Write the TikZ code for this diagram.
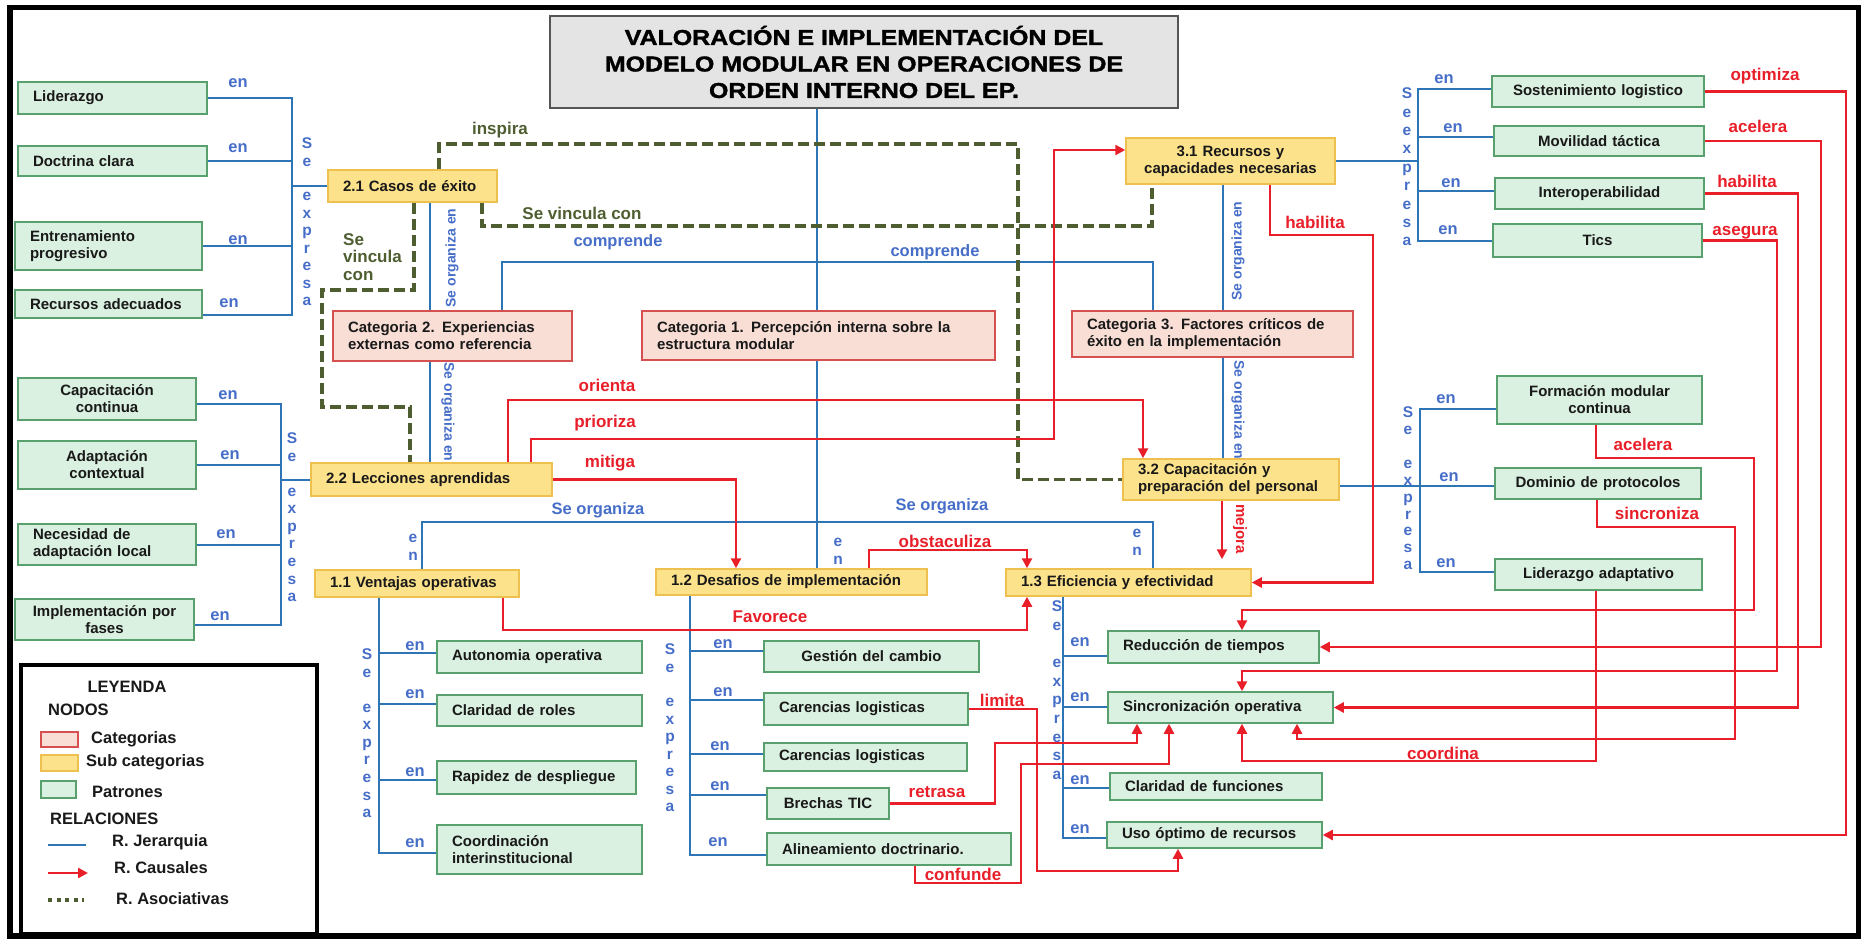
\documentclass[tikz,border=0pt]{standalone}
\usepackage{fontspec}
\setmainfont{Liberation Sans}
\newfontfamily\titlefont[FakeStretch=1.16,FakeBold=1.6]{Liberation Sans Bold}
\usetikzlibrary{arrows.meta}
\definecolor{hb}{RGB}{46,117,182}
\definecolor{hl}{RGB}{70,110,200}
\definecolor{rd}{RGB}{232,30,40}
\definecolor{ol}{RGB}{78,94,48}
\definecolor{catF}{RGB}{249,222,213}
\definecolor{catB}{RGB}{214,80,80}
\definecolor{subF}{RGB}{252,226,138}
\definecolor{subB}{RGB}{238,192,80}
\definecolor{patF}{RGB}{218,240,224}
\definecolor{patB}{RGB}{88,160,110}
\definecolor{tgF}{RGB}{228,228,228}
\definecolor{tgB}{RGB}{85,85,85}
\definecolor{txt}{RGB}{25,25,25}
\newcommand\boxfont{\fontsize{15}{17}\selectfont\bfseries}
\newcommand\bxL[7]{\node[#2, minimum width={#5-(#3)}, minimum height={#6-(#4)}, text width={#5-(#3)-30}, align=left] (#1) at ({(#3+#5)/2},{(#4+#6)/2}) {#7};}
\newcommand\bxC[7]{\node[#2, minimum width={#5-(#3)}, minimum height={#6-(#4)}, text width={#5-(#3)-10}, align=center] (#1) at ({(#3+#5)/2},{(#4+#6)/2}) {#7};}
\newcommand\sexp[5]{\node[blab, anchor=north, align=center, font=\fontsize{15.5}{#4}\selectfont\bfseries] (#1) at (#2,#3) {#5};}
\tikzset{
  box/.style={draw, line width=1.5pt, inner xsep=0pt, inner ysep=0pt, text=txt, font=\boxfont},
  catbox/.style={box, draw=catB, fill=catF},
  subbox/.style={box, draw=subB, fill=subF},
  patbox/.style={box, draw=patB, fill=patF},
  hier/.style={draw=hb, line width=2pt},
  caus/.style={draw=rd, line width=2.4pt, -{Triangle[length=10pt,width=10pt]}},
  assoc/.style={draw=ol, line width=3.6pt, dash pattern=on 11pt off 5pt},
  blab/.style={text=hl, font=\fontsize{16.5}{18}\selectfont\bfseries, inner sep=0pt},
  rlab/.style={text=rd, font=\fontsize{17}{19}\selectfont\bfseries, inner sep=0pt},
  olab/.style={text=ol, font=\fontsize{17}{17.5}\selectfont\bfseries, inner sep=0pt},
  legt/.style={text=txt, font=\fontsize{16.5}{18}\selectfont\bfseries, inner sep=0pt, anchor=west},
}
\begin{document}
\begin{tikzpicture}[x=1pt,y=-1pt]
\useasboundingbox (0,0) rectangle (1861,939);
\draw[line width=5.5pt] (10,7.5) rectangle (1859,936);

% title
\node[draw=tgB, fill=tgF, line width=2pt, minimum width=628, minimum height=92, align=center, inner sep=0pt, text=black,
  font=\titlefont\fontsize{21.5}{26.5}\selectfont] (T) at (864,62)
  {VALORACIÓN E IMPLEMENTACIÓN DEL\\MODELO MODULAR EN OPERACIONES DE\\ORDEN INTERNO DEL EP.};

% categories
\bxL{c2}{catbox}{333}{311}{572}{361}{Categoria 2. Experiencias\\externas como referencia}
\bxL{c1}{catbox}{642}{311}{995}{360}{Categoria 1. Percepción interna sobre la\\estructura modular}
\bxL{c3}{catbox}{1072}{311}{1353}{357}{Categoria 3. Factores críticos de\\éxito en la implementación}

% subcategories
\bxL{s21}{subbox}{328}{170}{497}{202}{2.1 Casos de éxito}
\bxL{s22}{subbox}{311}{463}{552}{496}{2.2 Lecciones aprendidas}
\bxL{s11}{subbox}{315}{570}{519}{597}{1.1 Ventajas operativas}
\bxL{s12}{subbox}{656}{569}{927}{595}{1.2 Desafios de implementación}
\bxL{s13}{subbox}{1006}{569}{1251}{596}{1.3 Eficiencia y efectividad}
\bxC{s31}{subbox}{1126}{138}{1335}{184}{3.1 Recursos y\\capacidades necesarias}
\bxL{s32}{subbox}{1123}{459}{1339}{500}{3.2 Capacitación y\\preparación del personal}

% patterns
\bxL{p1}{patbox}{18}{82}{207}{114}{Liderazgo}
\bxL{p2}{patbox}{18}{146}{207}{176}{Doctrina clara}
\bxL{p3}{patbox}{15}{222}{202}{270}{Entrenamiento\\progresivo}
\bxL{p4}{patbox}{15}{290}{202}{318}{Recursos adecuados}
\bxC{p5}{patbox}{18}{378}{196}{420}{Capacitación\\continua}
\bxC{p6}{patbox}{18}{441}{196}{489}{Adaptación\\contextual}
\bxL{p7}{patbox}{18}{524}{196}{565}{Necesidad de\\adaptación local}
\bxC{p8}{patbox}{15}{599}{194}{640}{Implementación por\\fases}
\bxL{p9}{patbox}{437}{641}{642}{673}{Autonomia operativa}
\bxL{p10}{patbox}{437}{695}{642}{726}{Claridad de roles}
\bxL{p11}{patbox}{437}{761}{636}{794}{Rapidez de despliegue}
\bxL{p12}{patbox}{437}{825}{642}{874}{Coordinación\\interinstitucional}
\bxC{p13}{patbox}{764}{641}{979}{672}{Gestión del cambio}
\bxL{p14}{patbox}{764}{693}{968}{725}{Carencias logisticas}
\bxL{p15}{patbox}{764}{743}{967}{771}{Carencias logisticas}
\bxC{p16}{patbox}{767}{788}{889}{819}{Brechas TIC}
\bxL{p17}{patbox}{767}{833}{1011}{865}{Alineamiento doctrinario.}
\bxL{p18}{patbox}{1108}{631}{1319}{663}{Reducción de tiempos}
\bxL{p19}{patbox}{1108}{692}{1333}{723}{Sincronización operativa}
\bxL{p20}{patbox}{1110}{773}{1322}{800}{Claridad de funciones}
\bxL{p21}{patbox}{1107}{822}{1322}{848}{Uso óptimo de recursos}
\bxC{p22}{patbox}{1492}{76}{1704}{107}{Sostenimiento logistico}
\bxC{p23}{patbox}{1494}{126}{1704}{156}{Movilidad táctica}
\bxC{p24}{patbox}{1495}{178}{1704}{209}{Interoperabilidad}
\bxC{p25}{patbox}{1493}{224}{1702}{257}{Tics}
\bxC{p26}{patbox}{1497}{376}{1702}{424}{Formación modular\\continua}
\bxC{p27}{patbox}{1495}{468}{1701}{499}{Dominio de protocolos}
\bxC{p28}{patbox}{1495}{559}{1702}{590}{Liderazgo adaptativo}

% hierarchy lines
\draw[hier] (817,0 |- T.south) -- (817,0 |- c1.north);
\draw[hier] (502,0 |- c2.north) -- (502,262) -- (1153,262) -- (1153,0 |- c3.north);
\draw[hier] (817,0 |- c1.south) -- (817,0 |- s12.north);
\draw[hier] (422,0 |- s11.north) -- (422,522) -- (1153,522) -- (1153,0 |- s13.north);
\draw[hier] (430,0 |- s21.south) -- (430,0 |- c2.north);
\draw[hier] (430,0 |- c2.south) -- (430,0 |- s22.north);
\draw[hier] (1223,0 |- s31.south) -- (1223,0 |- c3.north);
\draw[hier] (1223,0 |- c3.south) -- (1223,0 |- s32.north);
% 2.1 group
\draw[hier] (p1.east) -- (292,98) -- (292,315) -- (p4.east |- 0,315);
\draw[hier] (p2.east) -- (292,0 |- p2.east);
\draw[hier] (p3.east) -- (292,0 |- p3.east);
\draw[hier] (s21.west) -- (292,0 |- s21.west);
% 2.2 group
\draw[hier] (p5.east |- 0,404) -- (281,404) -- (281,625) -- (p8.east |- 0,625);
\draw[hier] (p6.east) -- (281,0 |- p6.east);
\draw[hier] (p7.east) -- (281,0 |- p7.east);
\draw[hier] (s22.west) -- (281,0 |- s22.west);
% 1.1 group
\draw[hier] (379,0 |- s11.south) -- (379,853) -- (p12.west |- 0,853);
\draw[hier] (379,653) -- (p9.west |- 0,653);
\draw[hier] (379,704) -- (p10.west |- 0,704);
\draw[hier] (379,780) -- (p11.west |- 0,780);
% 1.2 group
\draw[hier] (690,0 |- s12.south) -- (690,855) -- (p17.west |- 0,855);
\draw[hier] (690,651) -- (p13.west |- 0,651);
\draw[hier] (690,700) -- (p14.west |- 0,700);
\draw[hier] (690,754) -- (p15.west |- 0,754);
\draw[hier] (690,795) -- (p16.west |- 0,795);
% 1.3 group
\draw[hier] (1063,0 |- s13.south) -- (1063,838) -- (p21.west |- 0,838);
\draw[hier] (1063,656) -- (p18.west |- 0,656);
\draw[hier] (1063,707) -- (p19.west |- 0,707);
\draw[hier] (1063,788) -- (p20.west |- 0,788);
% 3.1 group
\draw[hier] (s31.east) -- (1418,0 |- s31.east);
\draw[hier] (p22.west |- 0,89) -- (1418,89) -- (1418,241) -- (p25.west |- 0,241);
\draw[hier] (1418,137) -- (p23.west |- 0,137);
\draw[hier] (1418,191) -- (p24.west |- 0,191);
% 3.2 group
\draw[hier] (s32.east |- 0,486) -- (1420,486) -- (p27.west |- 0,486);
\draw[hier] (p26.west |- 0,409) -- (1420,409) -- (1420,572) -- (p28.west |- 0,572);

% associative
\draw[assoc] (439,0 |- s21.north) -- (439,144) -- (1018,144) |- (s32.west);
\draw[assoc] (482,0 |- s21.south) -- (482,226) -| (1152,0 |- s31.south);
\draw[assoc] (414,0 |- s21.south) -- (414,290) -- (322,290) -- (322,407) -- (410,407) -- (410,0 |- s22.north);

% causal
\draw[caus] (508,0 |- s22.north) -- (508,400) -| (1143,0 |- s32.north);
\draw[caus] (531,0 |- s22.north) -- (531,439) -- (1054,439) -- (1054,150) -- (s31.west |- 0,150);
\draw[caus] (s22.east) -| (736,0 |- s12.north);
\draw[caus] (869,0 |- s12.north) -- (869,550) -| (1027,0 |- s13.north);
\draw[caus, shorten >=9pt] (1222,0 |- s32.south) -- (1222,0 |- s13.north);
\draw[caus] (1270,0 |- s31.south) -- (1270,235) -- (1373,235) |- (s13.east);
\draw[caus] (503,0 |- s11.south) -- (503,630) -| (1027,0 |- s13.south);
\draw[caus] (p14.east) -| (1037,871) -| (1178,0 |- p21.south);
\draw[caus] (p16.east) -| (995,743) -| (1137,0 |- p19.south);
\draw[caus] (915,0 |- p17.south) |- (1021,883) |- (1169,764) -- (1169,0 |- p19.south);
\draw[caus] (p22.east) -| (1846,835) -- (p21.east);
\draw[caus] (p23.east) -| (1821,647) -- (p18.east);
\draw[caus] (p24.east) -| (1798,707.5) -- (p19.east);
\draw[caus] (p25.east) -| (1777,671) -| (1242,0 |- p19.north);
\draw[caus] (1596,0 |- p26.south) |- (1754,458) |- (1242,610) -- (1242,0 |- p18.north);
\draw[caus] (1597,0 |- p27.south) |- (1735,527) |- (1297,739) -- (1297,0 |- p19.south);
\draw[caus] (1596,0 |- p28.south) |- (1242,761) -- (1242,0 |- p19.south);

% red labels
\node[rlab] (lor) at (607,385) {orienta};
\node[rlab] (lpr) at (605,423) {prioriza};
\node[rlab] (lmi) at (610,463) {mitiga};
\node[rlab] (lob) at (945,541) {obstaculiza};
\node[rlab, rotate=-90, font=\fontsize{15}{17}\selectfont\bfseries] (lme) at (1240,529) {mejora};
\node[rlab] (lha1) at (1315,222) {habilita};
\node[rlab] (lfa) at (770,617) {Favorece};
\node[rlab] (lli) at (1002,700) {limita};
\node[rlab] (lre) at (937,792) {retrasa};
\node[rlab] (lco) at (963,874) {confunde};
\node[rlab] (lop) at (1765,76) {optimiza};
\node[rlab] (lac1) at (1758,126) {acelera};
\node[rlab] (lha2) at (1747,181) {habilita};
\node[rlab] (las) at (1745,233) {asegura};
\node[rlab] (lac2) at (1643,444) {acelera};
\node[rlab] (lsi) at (1657,513) {sincroniza};
\node[rlab] (lcd) at (1443,753) {coordina};

% olive labels
\node[olab] (lin) at (500,130) {inspira};
\node[olab] (lvc1) at (582,213) {Se vincula con};
\node[olab, align=left, anchor=west] (lvc2) at (343,257) {Se\\vincula\\con};

% blue labels
\node[blab] (lcp1) at (618,242) {comprende};
\node[blab] (lcp2) at (935,252) {comprende};
\node[blab] (lso1) at (598,510) {Se organiza};
\node[blab] (lso2) at (942,506) {Se organiza};
\node[blab, align=center, font=\fontsize{15.5}{18}\selectfont\bfseries] (lenv1) at (413,547) {e\\n};
\node[blab, align=center, font=\fontsize{15.5}{18}\selectfont\bfseries] (lenv2) at (838,551) {e\\n};
\node[blab, align=center, font=\fontsize{15.5}{18}\selectfont\bfseries] (lenv3) at (1137,542) {e\\n};
\node[blab, rotate=90, font=\fontsize{14}{16}\selectfont\bfseries] (lse1) at (452,258) {Se organiza en};
\node[blab, rotate=-90, font=\fontsize{14}{16}\selectfont\bfseries] (lse2) at (448,412) {Se organiza en};
\node[blab, rotate=90, font=\fontsize{14}{16}\selectfont\bfseries] (lse3) at (1238,251) {Se organiza en};
\node[blab, rotate=-90, font=\fontsize{14}{16}\selectfont\bfseries] (lse4) at (1238,410) {Se organiza en};

\foreach \px/\py [count=\i] in {238/83, 238/148, 238/240, 229/303,
  228/395, 230/455, 226/534, 220/616,
  415/646, 415/694, 415/772, 415/843,
  723/644, 723/692, 720/746, 720/786, 718/842,
  1080/642, 1080/697, 1080/780, 1080/829,
  1444/79, 1453/128, 1451/183, 1448/230,
  1446/399, 1449/477, 1446/563}
  \node[blab] (en\i) at (\px,\py) {en};

\sexp{se21}{307}{137.6}{17.44}{S\\e\\[17.44pt]e\\x\\p\\r\\e\\s\\a}
\sexp{se22}{292}{432.6}{17.56}{S\\e\\[17.56pt]e\\x\\p\\r\\e\\s\\a}
\sexp{se11}{367}{648.6}{17.56}{S\\e\\[17.56pt]e\\x\\p\\r\\e\\s\\a}
\sexp{se12}{670}{643.6}{17.44}{S\\e\\[17.44pt]e\\x\\p\\r\\e\\s\\a}
\sexp{se13}{1057}{600.6}{18.67}{S\\e\\[18.67pt]e\\x\\p\\r\\e\\s\\a}
\sexp{se31}{1407}{87.6}{18.4}{S\\e\\e\\x\\p\\r\\e\\s\\a}
\sexp{se32}{1408}{406.6}{16.9}{S\\e\\[16.9pt]e\\x\\p\\r\\e\\s\\a}

% legend
\node[draw, line width=4pt, minimum width=296, minimum height=269, inner sep=0pt] (leg) at (169,799.5) {};
\node[text=txt, font=\fontsize{16.5}{18}\selectfont\bfseries, inner sep=0pt] (legT) at (127,687) {LEYENDA};
\node[legt] (legN) at (48,710) {NODOS};
\node[catbox, minimum width=37, minimum height=15] (legc) at (59.5,739.5) {};
\node[subbox, minimum width=37, minimum height=16] (legs) at (59.5,763) {};
\node[patbox, minimum width=35, minimum height=17] (legp) at (58.5,789.5) {};
\node[legt] (legct) at (91,739) {Categorias};
\node[legt] (legst) at (86,762) {Sub categorias};
\node[legt] (legpt) at (92,792) {Patrones};
\node[legt] (legR) at (50,819) {RELACIONES};
\coordinate (lh1) at (48,845); \coordinate (lh2) at (86,845);
\coordinate (lc1) at (48,873); \coordinate (lc2) at (88,873);
\coordinate (la1) at (48,900); \coordinate (la2) at (84,900);
\draw[hier] (lh1) -- (lh2);
\draw[caus] (lc1) -- (lc2);
\draw[draw=ol, line width=4pt, dash pattern=on 4pt off 4.5pt] (la1) -- (la2);
\node[legt] (legj) at (112,842) {R. Jerarquia};
\node[legt] (legca) at (114,868) {R. Causales};
\node[legt] (legas) at (116,899) {R. Asociativas};
\end{tikzpicture}
\end{document}
